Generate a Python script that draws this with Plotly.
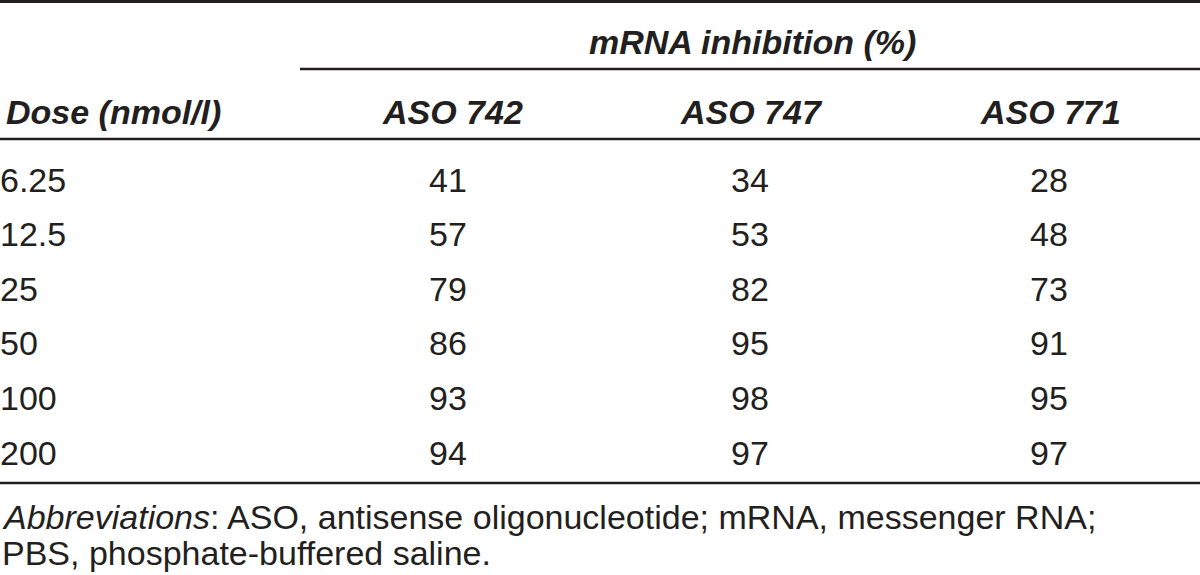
import plotly.graph_objects as go

# ---- data ----
group_title = "mRNA inhibition (%)"
row_header = "Dose (nmol/l)"
columns = ["ASO 742", "ASO 747", "ASO 771"]
doses = ["6.25", "12.5", "25", "50", "100", "200"]
aso742 = [41, 57, 79, 86, 93, 94]
aso747 = [34, 53, 82, 95, 98, 97]
aso771 = [28, 48, 73, 91, 95, 97]
footnote_lines = [
    "<i>Abbreviations</i>: ASO, antisense oligonucleotide; mRNA, messenger RNA;",
    "PBS, phosphate-buffered saline.",
]

# ---- layout constants (pixels) ----
W, H = 1200, 575
FONT = "Liberation Sans, Arial, Helvetica, sans-serif"
INK = "#231f20"
FS = 34
head_x = [452, 751, 1050]
col_x = [448, 750, 1049]
row_y0, row_dy = 183, 54.6
series = [aso742, aso747, aso771]

fig = go.Figure()

# cell values
for cx, vals in zip(col_x, series):
    fig.add_trace(go.Scatter(
        x=[cx] * len(vals),
        y=[row_y0 + i * row_dy for i in range(len(vals))],
        mode="text", text=[str(v) for v in vals],
        textposition="middle center",
        textfont=dict(family=FONT, size=FS, color=INK),
        hoverinfo="skip", showlegend=False,
    ))

# row labels
fig.add_trace(go.Scatter(
    x=[0] * len(doses),
    y=[row_y0 + i * row_dy for i in range(len(doses))],
    mode="text", text=doses, textposition="middle right",
    textfont=dict(family=FONT, size=FS, color=INK),
    hoverinfo="skip", showlegend=False,
))

ann = []
ann.append(dict(x=752, y=42, text=f"<b><i>{group_title}</i></b>", xanchor="center", yanchor="middle"))
ann.append(dict(x=4, y=112, text=f"<b><i>{row_header}</i></b>", xanchor="left", yanchor="middle"))
for cx, c in zip(head_x, columns):
    ann.append(dict(x=cx, y=112, text=f"<b><i>{c}</i></b>", xanchor="center", yanchor="middle"))
for i, t in enumerate(footnote_lines):
    ann.append(dict(x=0, y=517 + i * 36, text=t, xanchor="left", yanchor="middle",
                    font=dict(family=FONT, size=FS, color=INK)))
for a in ann:
    a.setdefault("font", dict(family=FONT, size=FS, color=INK))
    a.update(xref="x", yref="y", showarrow=False)

shapes = [
    dict(type="line", x0=0, x1=W, y0=1.5, y1=1.5, line=dict(color=INK, width=3)),
    dict(type="line", x0=300, x1=W, y0=69, y1=69, line=dict(color=INK, width=2.5)),
    dict(type="line", x0=0, x1=W, y0=139, y1=139, line=dict(color=INK, width=2.5)),
    dict(type="line", x0=0, x1=W, y0=483, y1=483, line=dict(color=INK, width=2.5)),
]
for s in shapes:
    s.update(xref="x", yref="y")

fig.update_layout(
    width=W, height=H, margin=dict(l=0, r=0, t=0, b=0),
    paper_bgcolor="white", plot_bgcolor="white",
    xaxis=dict(range=[0, W], visible=False, fixedrange=True),
    yaxis=dict(range=[H, 0], visible=False, fixedrange=True),
    annotations=ann, shapes=shapes, showlegend=False,
)
fig.write_html(
    "out.html",
    config={"displayModeBar": False},
    post_script="document.body.style.margin='0';document.body.style.overflow='hidden';",
)
